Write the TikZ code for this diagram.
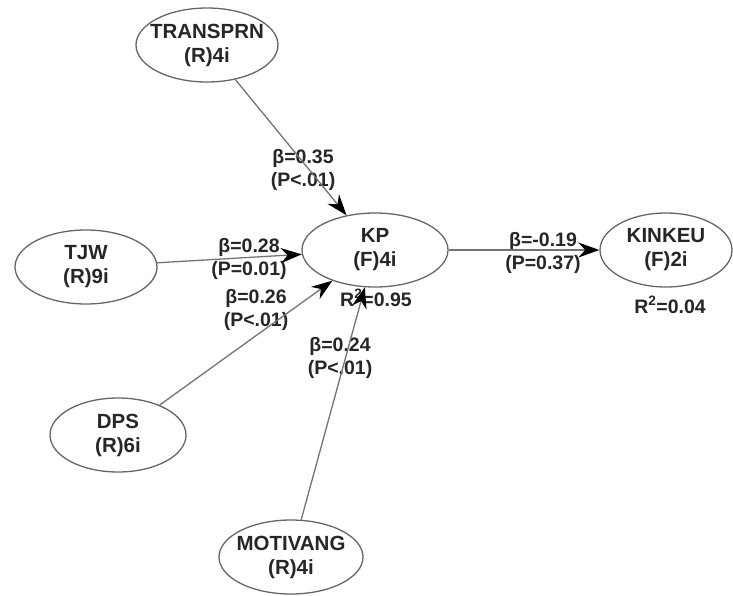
\documentclass[tikz,border=0pt]{standalone}
\usepackage{fontspec}
\setmainfont{Liberation Sans}
\usetikzlibrary{shapes.geometric, arrows.meta, positioning}

\begin{document}
\begin{tikzpicture}[
    x=1pt, y=-1pt,
    construct/.style={ellipse, draw=black!60, line width=1.3pt, minimum width=142pt, minimum height=74pt, inner xsep=-14pt, inner ysep=0pt, align=center, font=\bfseries\fontsize{20.5}{24}\selectfont, text=black!85},
    effect/.style={draw=black!55, line width=1.3pt, -{Stealth[black, length=21pt, width=15pt]}},
    coef/.style={align=center, font=\bfseries\fontsize{19.5}{23}\selectfont, text=black!85}
]
    \useasboundingbox (0,0) rectangle (733,595);

    % Nodes
    \node[construct] (transprn) at (207,45) {TRANSPRN\\(R)4i};
    \node[construct, minimum width=146pt] (kp) at (375,250) {KP\\(F)4i};
    \node[construct, minimum width=132pt] (kinkeu) at (666,250) {KINKEU\\(F)2i};
    \node[construct] (tjw) at (86,267) {TJW\\(R)9i};
    \node[construct, minimum width=136pt] (dps) at (118,435) {DPS\\(R)6i};
    \node[construct, minimum width=144pt] (motivang) at (291,557) {MOTIVANG\\(R)4i};

    % Coefficients
    \node[coef] (b_transprn) at (303,170) {β=0.35\\(P<.01)};
    \node[coef] (b_tjw) at (249,259) {β=0.28\\(P=0.01)};
    \node[coef] (b_dps) at (256,310) {β=0.26\\(P<.01)};
    \node[coef] (b_motivang) at (340,358) {β=0.24\\(P<.01)};
    \node[coef] (b_kp) at (543,253) {β=-0.19\\(P=0.37)};
    \node[coef] (r_kp) at (376,298) {R\textsuperscript{2}=0.95};
    \node[coef] (r_kinkeu) at (670,305) {R\textsuperscript{2}=0.04};

    % Arrows
    \draw[effect] (transprn) -- (kp);
    \draw[effect] (tjw) -- (kp);
    \draw[effect] (dps) -- (kp);
    \draw[effect] (motivang) -- (kp);
    \draw[effect] (kp) -- (kinkeu);
\end{tikzpicture}
\end{document}
